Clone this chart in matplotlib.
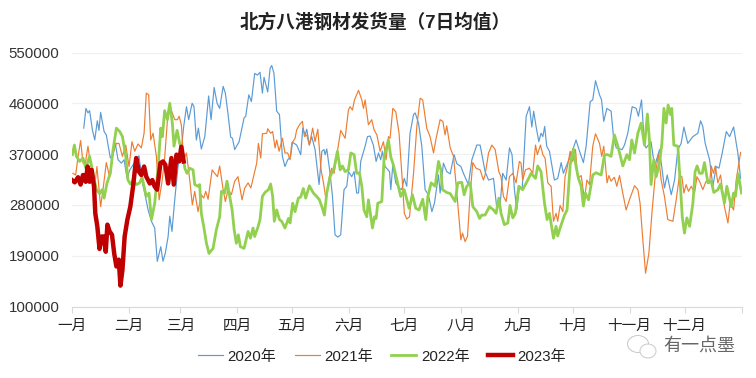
#!/usr/bin/env python3
# -*- coding: utf-8 -*-
import numpy as np
import matplotlib
matplotlib.use('Agg')
import matplotlib.pyplot as plt
from matplotlib.patches import Ellipse

plt.rcParams['font.family'] = ['Liberation Sans', 'Noto Sans CJK SC', 'DejaVu Sans']

months = ['一月', '二月', '三月', '四月', '五月', '六月', '七月', '八月', '九月', '十月', '十一月', '十二月', '']
month_days = [0, 31, 59, 90, 120, 151, 181, 212, 243, 273, 304, 334, 365]
y_ticks = [100000, 190000, 280000, 370000, 460000, 550000]

# day of year, value in thousands
days_2020 = [6.4,7.6,8.7,9.6,11.1,12.4,13.8,14.7,15.6,17.5,18.7,20.9,22.4,23.6,25.1,26.9,28.4,30,31.5,33.3,35.1,36.5,38.4,40,41.5,43.3,45.1,46.5,48.4,49.6,50.9,52.4,53.3,54.5,56,57.8,59.6,60.9,62.4,63.6,65.5,66.5,67.8,68.9,70.5,72.4,74.5,75.8,77.5,79.1,80.5,82.4,83.6,85.1,86.5,87.5,88.7,91.1,93.8,94.7,96.4,97.8,99.6,101.1,102.5,103.8,104.7,106.7,108,108.9,110.1,111.6,113.1,114.7,116.1,117.6,119.2,120.2,122.5,124.7,125.8,127.1,128,129.4,130.7,132.5,134.7,136.2,137.4,138,138.9,140.7,142,143.4,144.9,146.5,148.3,149.8,150.7,152.5,153.8,155.2,156.2,157.4,159.8,161.1,162.5,164.3,165.8,167.1,168.3,169.2,170.7,173.1,173.8,174.9,176.5,178.3,179.8,181.1,182.5,184.3,186.2,187.1,188.9,190.7,192.5,194.3,196.2,197.6,199.8,200.7,202.5,204.3,206.2,208.3,209.8,212,213.4,216.1,218,220.7,222.5,225.2,227.1,229.8,231.4,233.4,234.8,236.7,238.5,239.9,241.2,242.5,243.9,245.4,247.6,249.4,250.7,251.7,253,254.5,255.7,256.7,257.7,258.8,260.3,263,264.8,266.7,267.9,269.4,272.1,274.8,276.7,278.8,280.3,282.5,283.9,285.4,287.6,288.7,289.9,291.6,293.9,295.2,296.7,299.9,301.2,303,305.4,307.6,308.8,310.5,312.1,313,315.7,317.6,320.3,323,324.5,326.7,328.5,330.3,332.1,333.6,335.7,338.5,341.2,342.7,343.9,345.2,347.6,349.4,351.2,352.7,354.5,356.7,358.5,360.7,363,364.5]
vals_2020 = [416,451,443,447,413,395,429,412,444,410,404,363,369,389,360,354,360,327,342,351,360,367,319,295,271,251,239,180,206,180,195,224,260,233,289,348,378,419,454,431,460,454,395,416,379,401,473,431,488,460,451,490,478,440,400,398,378,392,434,437,475,463,513,510,515,478,506,480,522,527,513,446,440,366,348,360,366,391,386,369,416,404,414,386,401,378,316,375,378,369,379,336,295,227,223,227,307,313,339,330,339,301,301,357,384,401,402,386,357,372,360,375,348,339,307,351,319,310,307,327,313,407,440,443,425,384,307,298,268,283,333,301,354,339,335,369,353,348,336,316,360,386,386,339,324,327,280,280,336,324,381,369,307,271,313,307,437,454,418,446,419,392,407,401,419,384,375,324,327,355,336,348,369,395,375,355,384,463,466,500,475,466,428,451,446,401,381,378,386,407,454,451,437,466,386,381,392,348,378,310,333,298,324,378,389,418,389,401,407,429,419,389,360,313,348,345,372,410,401,418,372,327]

days_2021 = [0.5,2,3.3,4.7,6,7.3,8.7,10,11.5,12.4,13.6,14.7,15.6,16.9,18.7,20.5,22.4,24.2,25.6,27.5,29.3,31.1,32.7,34.2,36,37.8,39.3,40.5,41.8,42.9,44.2,46,47.5,49.1,50.5,52.4,53.8,56,57.5,58.4,59.6,60.9,62.4,64.2,65.6,66.9,68.7,70.5,71.8,72.9,74.2,76.4,77.8,79.3,80.5,82.4,83.6,85.1,86.9,88.7,90.5,92.7,94.2,96,97.5,99.8,100.7,101.6,102.9,103.8,106.2,106.7,108.3,109.4,110.7,111.6,112.9,114.7,116.1,117.6,118.9,119.8,121.6,122.5,124,125.6,126.7,128,129.4,131.2,132.5,134,135.8,137.1,138.5,140.3,141.6,142.9,144.7,146.5,148.9,150.7,151.6,152.9,154,156.2,158,158.9,159.8,161.6,163.4,164.7,166.2,168,169.8,171.2,172.5,173.4,174.9,176.5,178.3,179.8,181.2,182.5,184,186.2,188,189.8,191.2,193.4,195.2,197.1,198.5,200.7,202.2,203.4,204.3,206.2,208,209.8,212,212.9,214.3,215.6,217.1,218.5,220.3,222.5,224.3,225.2,227.1,228.9,230.7,232.7,233.9,235.2,236.7,238.5,240.3,242.1,243.9,244.8,245.7,247.2,249.4,251.2,252.7,253.7,255.4,256.7,257.9,259.4,261.2,262.5,263.9,264.8,266.1,267.6,268.8,269.9,271.6,273,274.5,275.7,277.6,279.4,280.7,282.1,283.9,285.4,287.6,288.8,289.9,291.7,292.7,293.9,295.7,297,298.5,299.9,302.1,303.9,306.7,308.5,309.7,311.2,312.7,314.5,316.3,318.1,319.7,321.2,323,324.8,327.6,329.4,331.2,332.5,333.6,334.8,336.1,337.6,339.4,340.7,342.1,343.9,345.7,347.6,348.5,349.7,350.7,352.1,353.6,355.7,357.6,358.8,360.7,362.1,364.5]
vals_2021 = [336,333,366,394,354,354,384,354,324,313,348,310,277,307,355,330,372,389,389,366,386,348,392,375,388,381,407,478,475,395,407,366,289,322,363,446,451,431,431,437,422,360,372,324,280,304,268,298,292,304,290,342,336,330,349,307,286,307,298,322,330,289,310,319,310,342,354,389,363,406,407,415,407,410,381,395,375,398,372,372,360,389,398,413,422,428,401,404,386,416,392,414,342,319,289,330,345,336,375,412,398,448,454,448,466,483,466,451,466,422,431,413,404,375,392,360,401,398,451,445,407,336,265,255,259,336,419,469,466,416,401,372,398,431,428,404,420,381,366,301,218,230,215,224,301,355,345,342,324,333,372,386,378,339,330,295,286,330,336,319,357,354,324,342,345,336,386,369,386,369,363,319,313,251,265,251,279,268,330,345,375,357,378,327,332,289,324,316,384,406,389,366,384,319,332,322,329,313,332,307,271,289,314,307,283,218,159,194,271,336,369,324,295,254,251,289,333,330,301,316,304,313,301,330,322,307,322,319,349,336,349,319,333,277,248,283,271,324,373]

days_2022 = [0.2,1.3,2.4,4.2,6,7.5,9.6,11.5,13.3,15.1,16.4,17.5,19.1,20.9,22.4,24.2,26,27.5,29.3,30.5,31.8,33.3,35.1,36.9,38.2,39.3,40.5,42,43.3,45.1,46.9,48.4,49.3,50.5,52,53.3,54.7,55.6,57.3,58.7,60.2,61.5,62.7,64.2,66,66.9,68.7,69.6,70.5,71.8,73.3,74.7,76.9,78.7,80.5,81.5,83.3,84.5,86,87.3,88.4,89.6,90.7,91.8,93.8,96,97.3,98.7,99.6,101.5,102.5,103.8,105.2,107.1,108.3,109.4,110.3,111.6,113.1,114.3,116.1,118,118.9,120.3,121.6,123.4,124.7,126.1,127.4,129.4,131.6,133.4,134.9,136.2,137.6,138.9,140.7,142.9,144.7,146.2,147.4,148.9,150.7,152,153.8,155.2,156.7,158,159.2,160.7,161.6,163.8,164.9,165.8,166.7,168.9,170.2,172.5,173.8,175.2,177.1,179.2,181.1,183.8,185.6,187.4,189.2,191.2,192.9,194,195.8,198,199.8,201.1,202,204.3,206.2,208.9,210.3,212.5,213.8,215.2,217.1,218.5,220.7,222.2,223.4,225.2,227.6,229.8,231.2,232.7,233.9,235.7,237.6,238.8,240.3,241.7,243.6,245.7,248.5,250.3,252.7,253.9,255.7,257.6,259,260.3,262.5,263.9,264.8,266.1,268.5,269.9,271.6,273.4,274.8,276.1,277.6,278.8,279.9,281.6,283.9,285.7,288.5,290.3,292.1,293.9,295.7,297.6,300.3,302.5,303.9,305.2,306.7,308.5,310.3,312.1,313.7,314.8,315.7,317.2,318.5,320.3,321.6,322.7,323.9,325,326.3,327,328.1,330.3,331.6,332.7,333.9,335.2,336.7,338.5,339.7,340.8,342.1,343.6,344.8,346.7,348.5,349.9,352.1,353.6,355.7,357,359.4,360.7,361.7,363.2,365]
vals_2022 = [369,386,366,357,363,345,366,336,307,300,307,292,319,336,378,416,410,401,366,324,317,324,316,319,329,313,295,301,254,283,345,416,401,447,431,460,425,384,412,389,375,345,336,345,342,316,313,316,265,242,212,194,203,236,259,304,301,322,295,271,236,212,227,206,203,233,221,239,224,242,254,295,302,307,317,295,251,271,254,251,239,256,248,283,268,292,294,309,292,314,301,295,289,277,262,301,330,345,375,342,349,339,342,372,369,336,337,313,271,259,289,239,259,256,283,286,366,395,365,351,324,295,307,274,298,274,271,290,254,295,319,313,357,342,307,302,300,286,319,320,298,313,319,277,268,256,262,262,277,271,265,292,265,245,248,279,257,265,313,307,324,336,327,349,339,283,254,265,221,242,225,239,262,271,351,379,348,327,313,278,301,289,333,337,333,369,369,366,404,384,349,369,360,395,372,407,425,386,441,395,316,360,330,354,389,451,425,457,440,451,386,384,319,259,230,257,242,283,339,349,336,336,355,319,322,302,307,317,283,313,277,301,295,335,301]

days_2023 = [0,1.5,3.3,4.7,6,7.5,8.5,9.6,10.7,12,12.7,13.8,15,16.2,17.3,18.4,19.3,20.5,21.8,23,24.2,25.5,26.4,27.5,28.7,30.2,31.8,33.3,35,36.5,37.8,39.3,40.5,42.4,43.8,45,46.4,48.2,49.6,50.9,52.4,54.2,55.5,57,58.4,59.6,60.9]
vals_2023 = [324,320,329,316,333,321,348,321,342,313,265,242,202,224,224,197,245,233,227,194,171,183,137,165,224,254,277,313,363,339,333,348,330,318,324,313,307,354,357,351,318,363,316,369,357,383,357]

fig = plt.figure(figsize=(7.56, 3.78), dpi=100)
ax = fig.add_axes([72 / 756, 1 - 306.5 / 378, (741.5 - 72) / 756, (306.5 - 52.5) / 378])

ax.plot(days_2020, np.array(vals_2020) * 1000, color='#5B9BD5', lw=0.85, label='2020年')
ax.plot(days_2021, np.array(vals_2021) * 1000, color='#ED7D31', lw=0.85, label='2021年')
ax.plot(days_2022, np.array(vals_2022) * 1000, color='#92D050', lw=2.0, label='2022年')
ax.plot(days_2023, np.array(vals_2023) * 1000, color='#C00000', lw=3.2, label='2023年')

ax.set_xlim(0, 365)
ax.set_ylim(100000, 550000)
ax.set_yticks(y_ticks)
ax.set_xticks(month_days)
ax.set_xticklabels(months, fontsize=10.5, color='#222222')
ax.tick_params(axis='y', length=0, pad=9, labelsize=10.8, labelcolor='#333333')
ax.tick_params(axis='x', length=4, width=0.8, color='#D9D9D9', pad=5)
ax.grid(axis='y', color='#F0F0F0', lw=0.9)
ax.set_axisbelow(True)
for s in ['top', 'left', 'right']:
    ax.spines[s].set_visible(False)
ax.spines['bottom'].set_color('#D9D9D9')

fig.text(375 / 756, 1 - 22 / 378, '北方八港钢材发货量（7日均值）', ha='center', va='center',
         fontsize=13.4, fontweight='bold', color='#222222')

leg = fig.legend(loc='center', bbox_to_anchor=(382 / 756, 1 - 356.5 / 378), ncol=4, frameon=False,
                 fontsize=10.8, handlelength=1.67, handletextpad=0.3, columnspacing=1.23)
for t in leg.get_texts():
    t.set_color('#222222')

# watermark
wm = fig.add_axes([0, 0, 1, 1], facecolor='none')
wm.set_xlim(0, 756)
wm.set_ylim(378, 0)
wm.axis('off')
wm.add_patch(Ellipse((638, 344), 21, 17, fc='white', ec='#C8C8C8', lw=0.7))
wm.add_patch(Ellipse((648, 351), 16, 14, fc='white', ec='#C8C8C8', lw=0.7))
wm.text(699, 346, '有一点墨', ha='center', va='center', fontsize=13, color='#666666')

fig.savefig('out.png', dpi=100)
